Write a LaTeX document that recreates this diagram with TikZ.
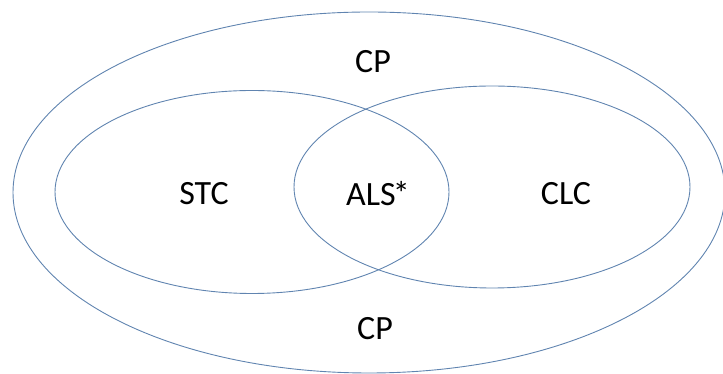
\documentclass[tikz,border=0pt]{standalone}
\usepackage{fontspec}
\setmainfont{Carlito}
\definecolor{edge}{RGB}{96,132,176}
\begin{document}
\begin{tikzpicture}[x=1pt,y=1pt,
  ring/.style={draw=edge,line width=0.9pt},
  lab/.style={font=\fontsize{34}{34}\selectfont,text=black,inner sep=0pt}]
\useasboundingbox (0,0) rectangle (723,374);
\draw[ring] (369,181.5) ellipse [x radius=356, y radius=180.5];
\draw[ring] (252,182) ellipse [x radius=197, y radius=101.5];
\draw[ring] (492,187) ellipse [x radius=198, y radius=101];
\node[lab] (cptop) at (373,312) {CP};
\node[lab] (stc) at (204,180) {STC};
\node[lab] (als) at (378,180) {ALS\kern-3pt*};
\node[lab] (clc) at (566,180) {CLC};
\node[lab] (cpbot) at (375,45) {CP};
\end{tikzpicture}
\end{document}
